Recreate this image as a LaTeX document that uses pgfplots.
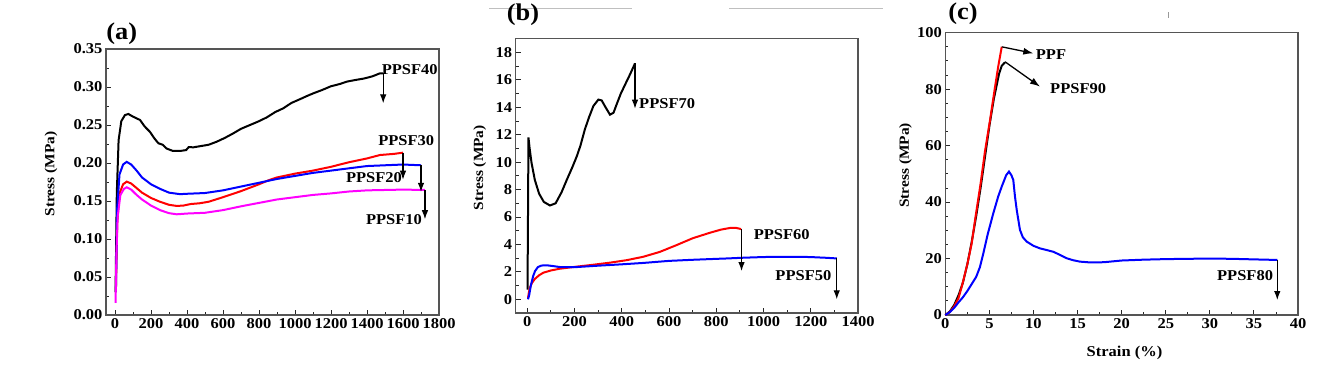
\documentclass[border=0pt]{standalone}
\usepackage{fontspec}
\setmainfont{Liberation Serif}[FakeStretch=1.1]
\usepackage{pgfplots}
\pgfplotsset{compat=1.18}
\usetikzlibrary{arrows.meta}
\definecolor{frame}{RGB}{85,85,85}
\definecolor{cred}{RGB}{255,0,0}
\definecolor{cblue}{RGB}{0,0,255}
\definecolor{cmag}{RGB}{255,0,255}
\newcommand{\tfont}{\fontsize{15}{15}\selectfont\bfseries}
\newcommand{\lfont}{\fontsize{15}{15}\selectfont\bfseries}
\pgfplotsset{
  panel/.style={
    scale only axis, anchor=south west,
    tick align=inside, tick pos=left,
    axis line style={draw=frame, line width=1.5pt},
    major tick length=5pt, minor tick length=3pt,
    every tick/.style={black!85, line width=0.9pt},
    ticklabel style={font=\tfont},
    /pgf/number format/assume math mode=true,
    /pgf/number format/1000 sep={},
    ylabel={Stress (MPa)},
    ylabel style={font=\fontsize{14}{14}\selectfont\bfseries, anchor=center},
    clip=false,
  },
  curve/.style={line width=2pt},
  arr/.style={black, line width=1.1pt, -{Latex[length=9pt,width=6.5pt]}},
}
\begin{document}
\begin{tikzpicture}
\useasboundingbox (0pt,0pt) rectangle (1340pt,375pt);
% artifacts
\draw[black!25, line width=1pt] (489pt,366.7pt) -- (631.7pt,366.7pt);
\draw[black!25, line width=1pt] (729pt,366.7pt) -- (883pt,366.7pt);
\draw[black!40, line width=0.8pt] (1168pt,357pt) -- (1168pt,363pt);
\node[font=\fontsize{24}{24}\selectfont\bfseries] at (121.7pt,341.7pt) {(a)};
\node[font=\fontsize{24}{24}\selectfont\bfseries] at (523pt,360pt) {(b)};
\node[font=\fontsize{24}{24}\selectfont\bfseries] at (963pt,361.7pt) {(c)};

% ---------------- (a)
\begin{axis}[panel, at={(106pt,60pt)}, width=333pt, height=266pt,
  xmin=-50, xmax=1800, ymin=0, ymax=0.35,
  xtick={0,200,400,600,800,1000,1200,1400,1600,1800},
  ytick={0,0.05,0.10,0.15,0.20,0.25,0.30,0.35},
  minor x tick num=1, minor y tick num=1,
  yticklabel style={/pgf/number format/.cd, fixed, fixed zerofill, precision=2},
  ylabel style={at={(axis description cs:-0.165,0.53)}},
]
\addplot[curve, black] coordinates {
(3,0.03) (10,0.16) (20,0.23) (35,0.255) (55,0.263) (74,0.2645) (100,0.261) (139,0.2566) (165,0.248) (194,0.241) (220,0.232) (241,0.226) (265,0.224) (287,0.219) (320,0.216) (361,0.2158) (395,0.217) (410,0.221) (435,0.2206) (470,0.222) (520,0.224) (565,0.228) (610,0.233) (657,0.239) (700,0.245) (750,0.25) (800,0.255) (843,0.26) (890,0.267) (935,0.272) (980,0.279) (1028,0.284) (1065,0.288) (1102,0.2917) (1150,0.296) (1200,0.301) (1250,0.304) (1287,0.307) (1330,0.309) (1380,0.311) (1430,0.314) (1472,0.318) (1490,0.318)};
\addplot[curve, cred] coordinates {
(5,0.03) (12,0.12) (25,0.16) (45,0.172) (65,0.1755) (90,0.173) (120,0.167) (150,0.161) (200,0.154) (250,0.149) (300,0.145) (343,0.1435) (380,0.144) (420,0.146) (470,0.147) (520,0.149) (600,0.155) (700,0.163) (800,0.172) (850,0.177) (900,0.181) (1000,0.186) (1100,0.19) (1200,0.195) (1300,0.201) (1400,0.206) (1472,0.2105) (1550,0.212) (1600,0.2136)};
\addplot[curve, cblue] coordinates {
(5,0.03) (12,0.14) (25,0.185) (45,0.198) (65,0.2015) (90,0.198) (120,0.19) (150,0.181) (200,0.172) (250,0.166) (300,0.161) (361,0.159) (400,0.1595) (450,0.16) (500,0.1605) (600,0.164) (700,0.169) (800,0.174) (900,0.179) (1000,0.183) (1100,0.187) (1200,0.19) (1300,0.193) (1400,0.196) (1500,0.197) (1600,0.198) (1700,0.197)};
\addplot[curve, cmag] coordinates {
(3,0.016) (8,0.08) (15,0.13) (30,0.158) (50,0.166) (65,0.168) (90,0.165) (120,0.158) (150,0.152) (200,0.144) (250,0.138) (300,0.134) (343,0.1325) (400,0.1335) (500,0.1345) (600,0.138) (700,0.143) (800,0.1475) (900,0.152) (1000,0.155) (1100,0.158) (1200,0.16) (1300,0.1625) (1400,0.164) (1500,0.1645) (1600,0.165) (1722,0.1645)};
\addplot[arr] coordinates {(1490,0.318) (1490,0.2785)};
\addplot[arr] coordinates {(1600,0.2136) (1600,0.178)};
\addplot[arr] coordinates {(1700,0.197) (1700,0.162)};
\addplot[arr] coordinates {(1722,0.1645) (1722,0.126)};
\node[anchor=west, font=\lfont, inner sep=0pt] at (axis cs:1481,0.3224) {PPSF40};
\node[font=\lfont] at (axis cs:1618,0.2294) {PPSF30};
\node[font=\lfont] at (axis cs:1439,0.181) {PPSF20};
\node[font=\lfont] at (axis cs:1550,0.126) {PPSF10};
\end{axis}

% ---------------- (b)
\begin{axis}[panel, at={(515.7pt,62pt)}, width=342.3pt, height=274.3pt,
  xmin=-49, xmax=1400, ymin=-1, ymax=19,
  xtick={0,200,400,600,800,1000,1200,1400},
  ytick={0,2,4,6,8,10,12,14,16,18},
  minor x tick num=1, minor y tick num=1,
  ylabel style={at={(axis description cs:-0.105,0.53)}},
]
\addplot[curve, black] coordinates {
(1,0.7) (3,6) (5,11.8) (10,11.0) (18,9.95) (32,8.7) (50,7.7) (70,7.1) (96,6.84) (120,7.0) (145,7.8) (167,8.7) (190,9.6) (209,10.4) (225,11.2) (244,12.4) (262,13.3) (280,14.1) (301,14.56) (315,14.5) (329,14.07) (350,13.46) (365,13.6) (378,14.2) (396,15.0) (414,15.65) (435,16.4) (456,17.2)};
\addplot[curve, cred] coordinates {
(3,0.1) (10,0.8) (20,1.2) (33,1.5) (50,1.75) (68,1.94) (100,2.1) (138,2.23) (209,2.38) (280,2.52) (350,2.67) (420,2.85) (491,3.1) (560,3.45) (632,3.95) (700,4.45) (773,4.85) (820,5.08) (858,5.2) (885,5.2) (905,5.12)};
\addplot[curve, cblue] coordinates {
(3,0) (8,0.3) (15,1.0) (25,1.7) (33,2.06) (45,2.35) (60,2.46) (82,2.48) (110,2.42) (138,2.35) (209,2.35) (300,2.45) (400,2.55) (491,2.65) (600,2.8) (700,2.88) (773,2.93) (850,2.98) (914,3.03) (1000,3.08) (1056,3.1) (1130,3.1) (1197,3.08) (1260,3.03) (1310,2.98)};
\addplot[arr] coordinates {(456,17.2) (456,13.9)};
\addplot[arr] coordinates {(907,5.12) (907,2.06)};
\addplot[arr] coordinates {(1310,2.98) (1310,0)};
\node[anchor=west, font=\lfont, inner sep=0pt] at (axis cs:473,14.24) {PPSF70};
\node[font=\lfont] at (axis cs:1077,4.73) {PPSF60};
\node[font=\lfont] at (axis cs:1169,1.70) {PPSF50};
\end{axis}

% ---------------- (c)
\begin{axis}[panel, at={(945.3pt,60pt)}, width=352.7pt, height=282.3pt,
  xmin=0, xmax=40, ymin=0, ymax=100,
  xtick={0,5,10,15,20,25,30,35,40},
  ytick={0,20,40,60,80,100},
  minor x tick num=1, minor y tick num=3,
  xlabel={Strain (\%)},
  xlabel style={font=\fontsize{15}{15}\selectfont\bfseries, at={(axis description cs:0.508,-0.135)}, anchor=center},
  ylabel style={at={(axis description cs:-0.113,0.53)}},
]
\addplot[curve, black] coordinates {
(0,0) (0.5,1.2) (1,3.5) (1.5,7) (2,11.5) (2.5,18) (3,26) (3.5,35) (4,45) (4.5,56) (5,67) (5.5,76.5) (5.8,81) (6.1,85.5) (6.4,88.3) (6.77,89.5)};
\addplot[curve, cred] coordinates {
(0,0) (0.5,1) (1,3) (1.5,6) (1.86,10) (2.5,18) (3,25.5) (3.37,33.6) (4,46.5) (4.5,58) (5.07,69) (5.6,80) (6,88) (6.4,95)};
\addplot[curve, cblue] coordinates {
(0,0) (0.5,1) (1,2.5) (1.5,4.5) (2,6.3) (2.5,8.5) (3,11) (3.5,13.5) (3.93,17) (4.31,21.8) (4.8,28.5) (5.44,36) (6,42) (6.4,45.5) (6.9,49.5) (7.22,50.8) (7.5,49.5) (7.71,47.8) (7.9,42) (8.1,37.2) (8.47,30.1) (8.8,27.5) (9.23,26) (10,24.5) (10.74,23.6) (11.5,23) (12.25,22.4) (13,21.3) (13.77,20.1) (14.5,19.4) (15.28,18.9) (16.5,18.6) (18,18.7) (20,19.3) (22.5,19.6) (25,19.8) (27.5,19.9) (30,20) (32.5,19.9) (35,19.7) (37.65,19.5)};
\addplot[black, line width=1.3pt, -{Latex[length=10pt,width=7pt]}] coordinates {(6.4,95) (9.98,92.7)};
\addplot[black, line width=1.3pt, -{Latex[length=10pt,width=7pt]}] coordinates {(6.77,89.7) (10.74,80.9)};
\addplot[arr] coordinates {(37.65,19.5) (37.65,5.3)};
\node[anchor=west, font=\lfont, inner sep=0pt] at (axis cs:10.25,92.1) {PPF};
\node[anchor=west, font=\lfont, inner sep=0pt] at (axis cs:11.87,80.3) {PPSF90};
\node[font=\lfont] at (axis cs:34,13.8) {PPSF80};
\end{axis}
\end{tikzpicture}
\end{document}
